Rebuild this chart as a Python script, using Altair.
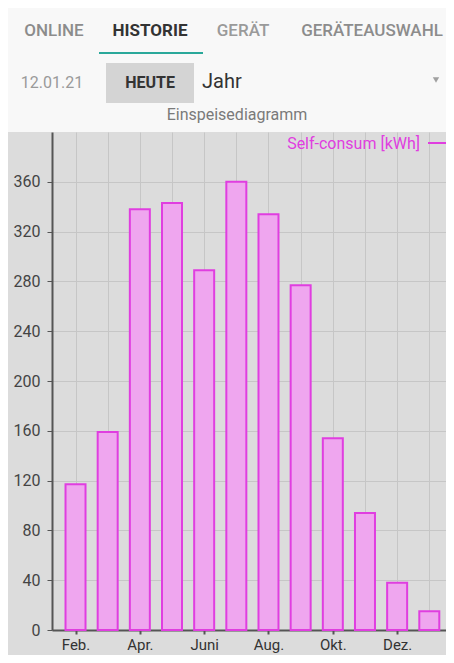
import altair as alt
import pandas as pd

# ---- data ----
months = ["Feb.", "März", "Apr.", "Mai", "Juni", "Juli", "Aug.", "Sep.", "Okt.", "Nov.", "Dez.", "Jan."]
values = [117, 159, 338, 343, 289, 360, 334, 277, 154, 94, 38, 15]
y_ticks = [0, 40, 80, 120, 160, 200, 240, 280, 320, 360]
series_name = "Self-consum [kWh]"
chart_title = "Einspeisediagramm"
tabs = ["ONLINE", "HISTORIE", "GERÄT", "GERÄTEAUSWAHL"]
date_label = "12.01.21"
button_label = "HEUTE"
period_label = "Jahr"

df = pd.DataFrame({"idx": list(range(len(months))), "month": months, "value": values})
one = pd.DataFrame({"a": [0]})

W, H = 394, 498
GREY_BG = "#dcdcdc"
MAGENTA = "#e03ee0"

label_arr = "[" + ",".join("'" + m + "'" for m in months) + "]"

x_scale = alt.Scale(domain=[-19 / 33, (W - 19) / 33], nice=False, zero=False)
y_scale = alt.Scale(domain=[0, 400], nice=False)

bars = alt.Chart(df).mark_bar(size=20, fill="#efa6ef", stroke=MAGENTA, strokeWidth=2).encode(
    x=alt.X("idx:Q", scale=x_scale, title=None,
            axis=alt.Axis(values=list(range(len(months))),
                          labelExpr="datum.value % 2 == 0 ? " + label_arr + "[datum.value] : ''",
                          grid=True, gridColor="#c6c6c6", gridWidth=1,
                          domainColor="#555555", domainWidth=2,
                          tickColor="#555555", tickSize=4, tickWidth=2,
                          tickOpacity={"condition": {"test": "datum.value % 2 == 0", "value": 1}, "value": 0},
                          labelColor="#333333", labelFontSize=15, labelFont="Roboto",
                          labelPadding=3, labelFlush=False)),
    y=alt.Y("value:Q", scale=y_scale, title=None,
            axis=alt.Axis(values=y_ticks, grid=True, gridColor="#c6c6c6", gridWidth=1,
                          domainColor="#555555", domainWidth=2,
                          tickColor="#555555", tickSize=5, tickWidth=1,
                          labelColor="#444444", labelFontSize=16, labelFont="Roboto",
                          labelPadding=7, labelFlush=False)),
)

# header background
header_bg = alt.Chart(one).mark_rect(fill="#f8f8f8").encode(
    x=alt.value(-44), x2=alt.value(W), y=alt.value(-124), y2=alt.value(0)
)

def txt(t, x, y, size=15, color="#888888", weight="normal", align="center"):
    return alt.Chart(pd.DataFrame({"t": [t]})).mark_text(
        fontSize=size, color=color, fontWeight=weight, align=align, baseline="middle", font="Roboto"
    ).encode(text="t:N", x=alt.value(x), y=alt.value(y))

tab_x = [2, 98, 191, 320]
tab_col = ["#8c8c8c", "#333333", "#9a9a9a", "#8c8c8c"]
tab_w = [500, "bold", 500, 500]
tab_layers = [txt(t, x, -101, 17, c, w) for t, x, c, w in zip(tabs, tab_x, tab_col, tab_w)]

underline = alt.Chart(one).mark_rule(color="#2aa89a", strokeWidth=2).encode(
    x=alt.value(47), x2=alt.value(151), y=alt.value(-79)
)
button = alt.Chart(one).mark_rect(fill="#d4d4d4").encode(
    x=alt.value(54), x2=alt.value(142), y=alt.value(-69), y2=alt.value(-29)
)
arrow = alt.Chart(one).mark_point(shape="triangle-down", size=40, filled=True, color="#7a7a7a").encode(
    x=alt.value(384), y=alt.value(-52)
)
legend_line = alt.Chart(one).mark_rule(color=MAGENTA, strokeWidth=2).encode(
    x=alt.value(376), x2=alt.value(W), y=alt.value(11)
)

layers = [header_bg, bars, underline, button, arrow, legend_line] + tab_layers + [
    txt(date_label, 0, -49, 16, "#9a9a9a"),
    txt(button_label, 98, -49, 16, "#333333", "bold"),
    txt(period_label, 150, -50, 20, "#333333", "normal", "left"),
    txt(chart_title, 185, -17, 16, "#7a7a7a"),
    txt(series_name, 368, 12, 16, MAGENTA, "normal", "right"),
]

chart = alt.layer(*layers).properties(
    width=W, height=H,
    autosize=alt.AutoSizeParams(type="none"),
    padding={"left": 44, "top": 124, "right": 0, "bottom": 25},
    background=GREY_BG,
).configure_view(stroke=None)

chart.save("out.html", embed_options={"renderer": "svg", "actions": False})
